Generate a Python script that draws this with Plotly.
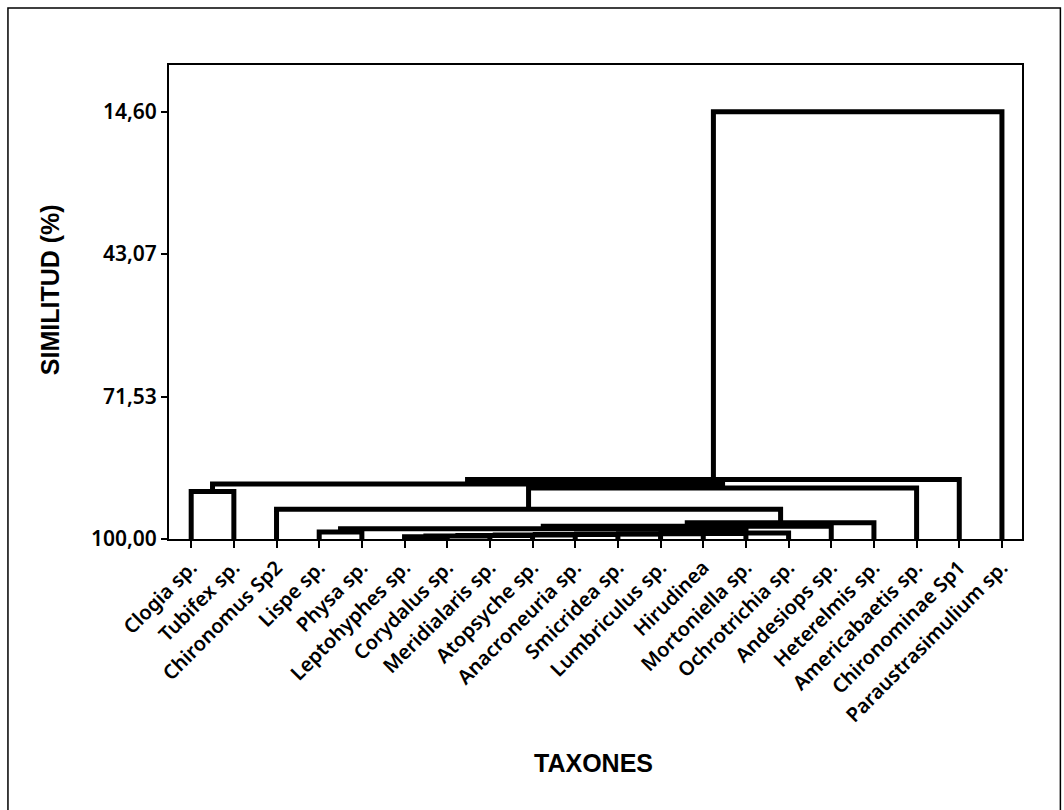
import plotly.graph_objects as go

# Leaf order along the x axis
taxa = [
    "Clogia sp.", "Tubifex sp.", "Chironomus Sp2", "Lispe sp.", "Physa sp.",
    "Leptohyphes sp.", "Corydalus sp.", "Meridialaris sp.", "Atopsyche sp.",
    "Anacroneuria sp.", "Smicridea sp.", "Lumbriculus sp.", "Hirudinea",
    "Mortoniella sp.", "Ochrotrichia sp.", "Andesiops sp.", "Heterelmis sp.",
    "Americabaetis sp.", "Chironominae Sp1", "Paraustrasimulium sp.",
]

# Agglomeration steps: ids 0-19 are taxa, step k creates cluster 20+k
merge_a = [5, 20, 21, 22, 23, 24, 25, 26, 27, 3, 29, 30, 31, 2, 0, 33, 34, 36, 37]
merge_b = [6, 7, 8, 9, 10, 11, 12, 13, 14, 4, 28, 15, 16, 32, 1, 17, 35, 18, 19]
merge_sim = [99.55, 99.40, 99.30, 99.20, 99.10, 99.00, 98.95, 98.90, 98.80,
             98.60, 97.96, 97.46, 96.76, 94.07, 90.50, 89.80, 89.00, 88.10, 14.60]

# Similarity tick marks
y_ticks = [14.60, 43.07, 71.53, 100.00]
y_ticktext = ["14,60", "43,07", "71,53", "100,00"]

# Dendrogram coordinates from the merge table
pos = {i: (i + 1, 100.0) for i in range(len(taxa))}
xs, ys = [], []
for k, (a, b, s) in enumerate(zip(merge_a, merge_b, merge_sim)):
    xa, ya = pos[a]
    xb, yb = pos[b]
    xs += [xa, xa, xb, xb, None]
    ys += [ya, s, s, yb, None]
    pos[len(taxa) + k] = ((xa + xb) / 2, s)

fig = go.Figure()
fig.add_trace(go.Scatter(
    x=xs, y=ys, mode="lines",
    line=dict(color="black", width=5),
    hoverinfo="skip", showlegend=False,
))

tick_font = dict(family="Noto Sans, DejaVu Sans, sans-serif", size=20, color="black",
                 weight=600)
title_font = dict(family="Liberation Sans Narrow, Arial Narrow, Liberation Sans, sans-serif",
                  size=25, color="black")

fig.update_layout(
    width=1064, height=810,
    margin=dict(l=169, r=42, t=65, b=271),
    paper_bgcolor="white", plot_bgcolor="white",
    showlegend=False,
    xaxis=dict(
        range=[0.48, 20.47],
        tickvals=list(range(1, len(taxa) + 1)), ticktext=taxa,
        tickangle=-45, tickfont=tick_font,
        ticks="outside", ticklen=7, tickwidth=2, tickcolor="black",
        showline=True, linecolor="black", linewidth=2, mirror=True,
        showgrid=False, zeroline=False,
    ),
    yaxis=dict(
        range=[100.0, 5.27],
        tickvals=y_ticks, ticktext=y_ticktext, tickfont=dict(tick_font, size=21),
        ticks="outside", ticklen=6, tickwidth=2, tickcolor="black",
        showline=True, linecolor="black", linewidth=2, mirror=True,
        showgrid=False, zeroline=False,
    ),
    annotations=[
        dict(text="<b>SIMILITUD (%)</b>", xref="paper", yref="paper",
             x=-0.1395, y=0.525, textangle=-90, showarrow=False,
             font=title_font, xanchor="center", yanchor="middle"),
        dict(text="<b>TAXONES</b>", xref="paper", yref="paper",
             x=0.498, y=-0.4726, showarrow=False,
             font=title_font, xanchor="center", yanchor="middle"),
    ],
    shapes=[
        # outer frame around the figure
        dict(type="rect", xref="paper", yref="paper",
             x0=-0.1888, y0=-0.60, x1=1.045, y1=1.1203,
             line=dict(color="black", width=1.5), fillcolor="rgba(0,0,0,0)"),
    ],
)

fig.write_html("out.html")
